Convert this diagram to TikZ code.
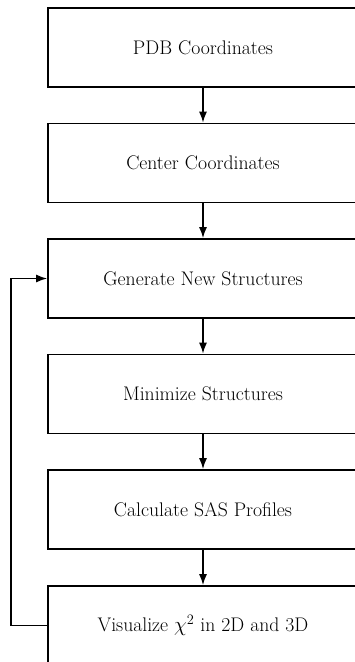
\documentclass[tikz,border=0pt]{standalone}
\usetikzlibrary{arrows.meta}
\begin{document}
\begin{tikzpicture}[x=1pt,y=-1pt,
  stepbox/.style={draw,line width=1.6pt,minimum width=310pt,minimum height=79pt,inner sep=0pt,font=\fontsize{19.7}{23}\selectfont},
  flow/.style={line width=1.6pt,-{Latex[length=11pt,width=8pt]}}]
\useasboundingbox (0,0) rectangle (354,662);
\node[stepbox] (b1) at (203,47.5) {PDB Coordinates};
\node[stepbox] (b2) at (203,163) {Center Coordinates};
\node[stepbox] (b3) at (203,278.5) {Generate New Structures};
\node[stepbox] (b4) at (203,394) {Minimize Structures};
\node[stepbox] (b5) at (203,509.5) {Calculate SAS Profiles};
\node[stepbox] (b6) at (203,625.5) {Visualize $\chi^2$ in 2D and 3D};
\draw[flow] (b1) -- (b2);
\draw[flow] (b2) -- (b3);
\draw[flow] (b3) -- (b4);
\draw[flow] (b4) -- (b5);
\draw[flow] (b5) -- (b6);
\coordinate (lx) at (11,0);
\draw[flow] (b6.west) -| (lx |- b6.west) -- (lx |- b3.west) -- (b3.west);
\end{tikzpicture}
\end{document}
